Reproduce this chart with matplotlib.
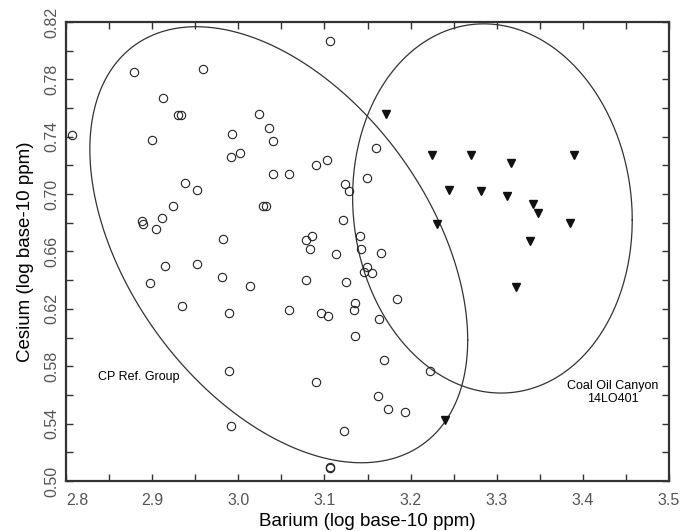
import numpy as np
import matplotlib
matplotlib.use('Agg')
import matplotlib.pyplot as plt
from matplotlib.ticker import FixedLocator, FormatStrFormatter

plt.rcParams['font.family'] = ['Liberation Sans', 'DejaVu Sans']

# CP reference group (open circles)
cp_barium = [
    3.106, 2.879, 2.959, 2.913, 2.930, 2.933, 2.807, 2.900, 3.024, 2.993,
    3.036, 3.040, 2.992, 3.002, 3.090, 3.103, 3.040, 3.059, 2.938, 2.952,
    3.124, 3.129, 2.924, 3.029, 3.032, 2.888, 2.889, 2.912, 2.904, 2.982,
    3.122, 3.079, 3.085, 3.083, 3.113, 2.915, 2.952, 2.898, 2.981, 3.014,
    3.079, 3.125, 2.935, 2.989, 3.059, 3.096, 3.104, 3.135, 3.134, 3.136,
    2.989, 3.090, 2.992, 3.123, 3.106, 3.107, 3.160, 3.149, 3.141, 3.142,
    3.166, 3.149, 3.146, 3.155, 3.184, 3.163, 3.169, 3.223, 3.162, 3.174,
    3.194,
]
cp_cesium = [
    0.807, 0.785, 0.787, 0.767, 0.755, 0.755, 0.741, 0.738, 0.756, 0.742,
    0.746, 0.737, 0.726, 0.729, 0.720, 0.724, 0.714, 0.714, 0.708, 0.703,
    0.707, 0.702, 0.692, 0.692, 0.692, 0.681, 0.679, 0.683, 0.676, 0.669,
    0.682, 0.668, 0.671, 0.662, 0.658, 0.650, 0.651, 0.638, 0.642, 0.636,
    0.640, 0.639, 0.622, 0.617, 0.619, 0.617, 0.615, 0.624, 0.619, 0.601,
    0.577, 0.569, 0.538, 0.535, 0.509, 0.510, 0.732, 0.711, 0.671, 0.662,
    0.659, 0.649, 0.646, 0.645, 0.627, 0.613, 0.584, 0.577, 0.559, 0.550,
    0.548,
]

# Coal Oil Canyon 14LO401 (filled triangles)
coc_barium = [3.171, 3.225, 3.270, 3.316, 3.390, 3.245, 3.282, 3.312, 3.342,
              3.348, 3.385, 3.231, 3.339, 3.322, 3.240]
coc_cesium = [0.756, 0.727, 0.727, 0.722, 0.727, 0.703, 0.702, 0.699, 0.693,
              0.687, 0.680, 0.679, 0.667, 0.635, 0.5425]

# Group ellipses: center x, center y, x half-width, y half-height, correlation
cp_ellipse = (3.047, 0.6647, 0.2193, 0.152, -0.437)
coc_ellipse = (3.295, 0.690, 0.1623, 0.1287, -0.062)

x_ticks = [2.8, 2.9, 3.0, 3.1, 3.2, 3.3, 3.4, 3.5]
y_ticks = [0.50, 0.54, 0.58, 0.62, 0.66, 0.70, 0.74, 0.78, 0.82]


def ellipse_path(cx, cy, sx, sy, rho, n=400):
    t = np.linspace(0, 2 * np.pi, n)
    x = cx + sx * np.cos(t)
    y = cy + sy * (rho * np.cos(t) + np.sqrt(1 - rho ** 2) * np.sin(t))
    return x, y


fig = plt.figure(figsize=(6.91, 5.31), dpi=100)
ax = fig.add_axes([0.0955, 0.0942, 0.8727, 0.8644])

for params in (cp_ellipse, coc_ellipse):
    ex, ey = ellipse_path(*params)
    ax.plot(ex, ey, color='#333333', lw=0.9)

ax.plot(cp_barium, cp_cesium, 'o', ms=6, mfc='none', mec='#222222', mew=0.8)
ax.plot(coc_barium, coc_cesium, 'v', ms=5.5, color='#111111')

ax.text(2.837, 0.5724, 'CP Ref. Group', fontsize=9, va='center', ha='left')
ax.text(3.4345, 0.5617, 'Coal Oil Canyon\n14LO401', fontsize=9,
        va='center', ha='center', linespacing=1.2)

ax.set_xlim(2.8, 3.5)
ax.set_ylim(0.50, 0.82)
ax.xaxis.set_major_locator(FixedLocator(x_ticks))
ax.xaxis.set_minor_locator(FixedLocator([v + 0.05 for v in x_ticks[:-1]]))
ax.yaxis.set_major_locator(FixedLocator(y_ticks))
ax.yaxis.set_minor_locator(FixedLocator([v + 0.02 for v in y_ticks[:-1]]))
ax.xaxis.set_major_formatter(FormatStrFormatter('%.1f'))
ax.yaxis.set_major_formatter(FormatStrFormatter('%.2f'))

ax.tick_params(which='both', direction='in', top=True, right=True,
               length=5, width=1, color='#333333')
ax.tick_params(which='major', labelsize=11.5, labelcolor='#555555')
ax.tick_params(axis='x', which='major', pad=9)
ax.tick_params(axis='y', which='major', pad=5)
for lab in ax.get_yticklabels():
    lab.set_rotation(90)
    lab.set_va('center')
# first x label sits just right of the corner, clear of 0.50
ax.get_xticklabels()[0].set_ha('left')

for sp in ax.spines.values():
    sp.set_linewidth(1.6)
    sp.set_color('#333333')

ax.set_xlabel('Barium (log base-10 ppm)', fontsize=13.5, labelpad=3)
ax.set_ylabel('Cesium (log base-10 ppm)', fontsize=13.5, labelpad=7)

fig.savefig('out.png', dpi=100)
